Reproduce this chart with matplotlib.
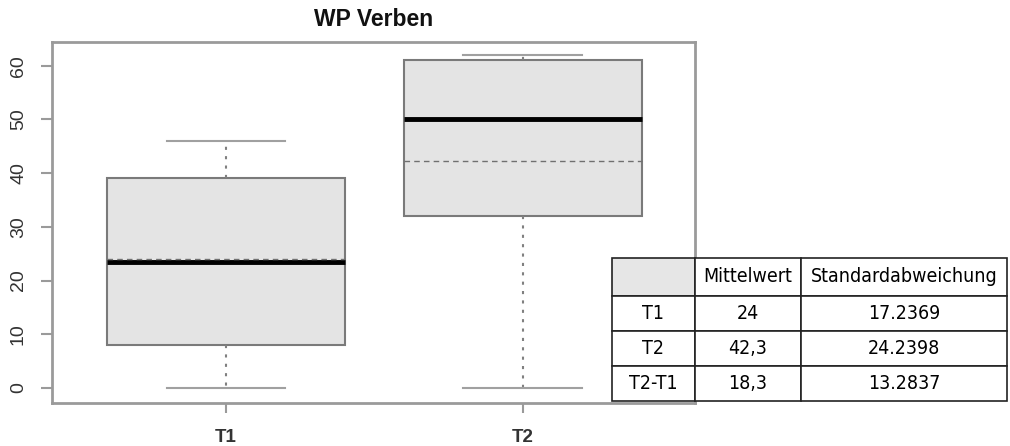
import numpy as np
import matplotlib.pyplot as plt

# box statistics for the two test dates
groups = ['T1', 'T2']
q1 = [8, 32]
med = [23.5, 50]
q3 = [39, 61]
whislo = [0, 0]
whishi = [46, 62]
means = [24, 42.3]

# summary table
col_labels = ['', 'Mittelwert', 'Standardabweichung']
row_labels = ['T1', 'T2', 'T2-T1']
mittelwert = ['24', '42,3', '18,3']
std_abw = ['17.2369', '24.2398', '13.2837']

frame_col = '#9a9a9a'
text_col = '#333333'

fig = plt.figure(figsize=(10.10, 4.46), dpi=100)
W, H = 1010.0, 446.0
ax = fig.add_axes([52 / W, 1 - 403 / H, (695 - 52) / W, (403 - 42) / H])

stats = []
for i, g in enumerate(groups):
    stats.append(dict(label=g, q1=q1[i], med=med[i], q3=q3[i],
                      whislo=whislo[i], whishi=whishi[i], mean=means[i]))

ax.bxp(stats, positions=[1, 2], widths=0.8, patch_artist=True,
       showmeans=True, meanline=True, showfliers=False,
       boxprops=dict(facecolor='#e4e4e4', edgecolor='#7a7a7a', linewidth=1.5),
       medianprops=dict(color='black', linewidth=3.5),
       meanprops=dict(color='#707070', linestyle=(0, (4, 3)), linewidth=1.0),
       whiskerprops=dict(color='#808080', linestyle=(0, (1.5, 3)), linewidth=1.5),
       capprops=dict(color='#a0a0a0', linewidth=1.5),
       capwidths=0.4)

ax.set_xlim(0.414, 2.58)
ax.set_ylim(-2.8, 64.4)
ax.set_yticks([0, 10, 20, 30, 40, 50, 60])
ax.set_xticks([1, 2])
ax.set_xticklabels(groups, fontweight='bold')

for s in ax.spines.values():
    s.set_color(frame_col)
    s.set_linewidth(2)
ax.tick_params(axis='both', colors=frame_col, width=1.5, length=8,
               labelcolor=text_col, labelsize=14)
ax.tick_params(axis='y', pad=10)
ax.tick_params(axis='x', length=7, pad=12, labelsize=13.5)
for lab in ax.get_yticklabels():
    lab.set_rotation(90)
    lab.set_va('center')
    lab.set_family('Liberation Sans')
for lab in ax.get_xticklabels():
    lab.set_family('Liberation Sans')

fig.text(374 / W, 1 - 19 / H, 'WP Verben', ha='center', va='center',
         fontsize=16.5, fontweight='bold', family='Liberation Sans',
         color='#111111')

# table drawn in its own axes on top of the plot
tax = fig.add_axes([612 / W, 1 - 401 / H, (1007 - 612) / W, (401 - 258) / H])
tax.axis('off')
cells = [[r, m, s] for r, m, s in zip(row_labels, mittelwert, std_abw)]
tab = tax.table(cellText=cells, colLabels=col_labels, cellLoc='center',
                bbox=[0, 0, 1, 1])
tab.auto_set_font_size(False)
widths = [83, 106, 206]
for (r, c), cell in tab.get_celld().items():
    cell.set_width(widths[c])
    cell.set_height(38 if r == 0 else 35)
    cell.set_edgecolor('#222222')
    cell.set_linewidth(1.2)
    cell.set_facecolor('white')
    t = cell.get_text()
    t.set_fontsize(14)
    t.set_family('DejaVu Sans')
    t.set_stretch('condensed')
tab[0, 0].set_facecolor('#e6e6e6')

fig.savefig('out.png', dpi=100)
